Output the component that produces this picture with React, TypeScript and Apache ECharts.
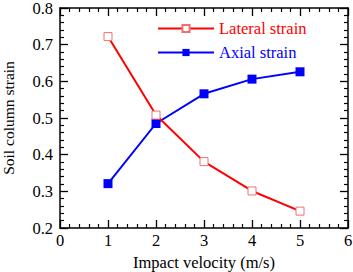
import React, { useEffect, useRef } from "react";
import * as echarts from "echarts";

const velocity = [1, 2, 3, 4, 5];
const lateralStrain = [0.722, 0.508, 0.381, 0.301, 0.246];
const axialStrain = [0.321, 0.485, 0.566, 0.606, 0.626];
const seriesNames = ["Lateral strain", "Axial strain"];
const FONT = "'Liberation Serif', 'Times New Roman', serif";
const FS = 16.5;

export default function App() {
  const ref = useRef<HTMLDivElement>(null);
  useEffect(() => {
    const chart = echarts.init(ref.current!, null, { renderer: "svg" });
    const frameAxis = (extra: any) => ({
      axisLine: { show: true, onZero: false, lineStyle: { color: "#000", width: 1.5 } },
      axisTick: { show: true, inside: true, length: 8, lineStyle: { color: "#000", width: 1.3 } },
      minorTick: { show: true, splitNumber: 5, length: 4, lineStyle: { color: "#000", width: 1.2 } },
      splitLine: { show: false },
      ...extra,
    });
    chart.setOption({
      animation: false,
      grid: { left: 60, top: 8, width: 288, height: 220, outerBoundsMode: "none", containLabel: false },
      legend: {
        orient: "vertical",
        left: 157,
        top: 20,
        padding: 0,
        itemWidth: 56,
        itemHeight: 9,
        itemGap: 7,
        itemTextGap: 7,
        textStyle: { fontFamily: FONT, fontSize: FS },
        data: [
          { name: seriesNames[0], textStyle: { color: "#ff0000" } },
          { name: seriesNames[1], textStyle: { color: "#0000ff" } },
        ],
      },
      xAxis: [
        frameAxis({
          type: "value",
          min: 0,
          max: 6,
          interval: 1,
          position: "bottom",
          name: "Impact velocity (m/s)",
          nameLocation: "middle",
          nameGap: 25,
          nameTextStyle: { fontFamily: FONT, fontSize: FS, color: "#000" },
          axisLabel: { fontFamily: FONT, fontSize: FS, color: "#000", margin: 4 },
        }),
        frameAxis({
          type: "value",
          min: 0,
          max: 6,
          interval: 1,
          position: "top",
          axisLabel: { show: false },
        }),
      ],
      yAxis: [
        frameAxis({
          type: "value",
          min: 0.2,
          max: 0.8,
          interval: 0.1,
          position: "left",
          name: "Soil column strain",
          nameLocation: "middle",
          nameGap: 44,
          nameTextStyle: { fontFamily: FONT, fontSize: 15.5, color: "#000" },
          axisLabel: {
            fontFamily: FONT,
            fontSize: FS,
            color: "#000",
            margin: 7,
            formatter: (v: number) => v.toFixed(1),
          },
        }),
        frameAxis({
          type: "value",
          min: 0.2,
          max: 0.8,
          interval: 0.1,
          position: "right",
          axisLabel: { show: false },
        }),
      ],
      series: [
        {
          name: seriesNames[0],
          type: "line",
          data: velocity.map((v, i) => [v, lateralStrain[i]]),
          symbol: "rect",
          symbolSize: 8,
          lineStyle: { color: "#ff0000", width: 2 },
          itemStyle: { color: "#ffffff", borderColor: "#f07070", borderWidth: 1 },
          z: 3,
        },
        {
          name: seriesNames[1],
          type: "line",
          data: velocity.map((v, i) => [v, axialStrain[i]]),
          symbol: "rect",
          symbolSize: 9,
          lineStyle: { color: "#0000ff", width: 2 },
          itemStyle: { color: "#0000ff", borderColor: "#0000ff", borderWidth: 0 },
          z: 2,
        },
      ],
    });
    return () => chart.dispose();
  }, []);
  return (
    <div
      ref={ref}
      style={{ position: "fixed", left: 0, top: 0, width: 353, height: 272, background: "#fff" }}
    />
  );
}
